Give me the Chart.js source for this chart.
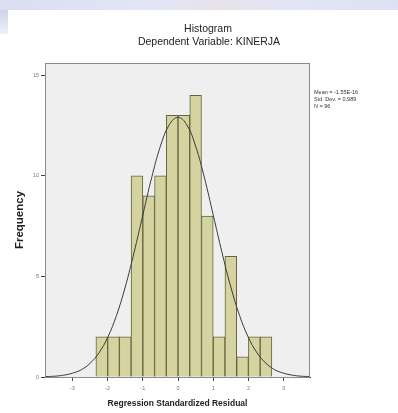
<!DOCTYPE html>
<html>
<head>
<meta charset="utf-8">
<script src="https://cdn.jsdelivr.net/npm/chart.js@4"></script>
<style>
  html, body { margin: 0; padding: 0; background: #ffffff; }
  #wrap { position: relative; width: 398px; height: 413px; overflow: hidden; }
  .band { position: absolute; left: 0; top: 0; width: 398px; height: 10px;
          background: linear-gradient(90deg, #d9def2 0%, #e4e6f6 40%, #e8e2ea 55%, #e4e6f6 70%, #dde1f3 100%); }
  .side { position: absolute; left: 0; top: 10px; width: 8px; height: 24px;
          background: linear-gradient(180deg, #ccd3ea, #eef0f8); }
  canvas { position: absolute; left: 0; top: 0; }
</style>
</head>
<body>
<div id="wrap">
  <div class="band"></div>
  <div class="side"></div>
  <canvas id="myChart" width="398" height="413"></canvas>
</div>
<script>
// histogram bins (width 1/3) and their counts
const binCenters = [-2.167, -1.833, -1.5, -1.167, -0.833, -0.5, -0.167, 0.167, 0.5, 0.833, 1.167, 1.5, 1.833, 2.167, 2.5];
const frequencies = [2, 2, 2, 10, 9, 10, 13, 13, 14, 8, 2, 6, 1, 2, 2];

// normal curve
const curveX = [-3.75, -3.5, -3.25, -3, -2.75, -2.5, -2.25, -2, -1.75, -1.5, -1.25, -1, -0.75, -0.5, -0.25, 0,
  0.25, 0.5, 0.75, 1, 1.25, 1.5, 1.75, 2, 2.25, 2.5, 2.75, 3, 3.25, 3.5, 3.75];
const curveY = [0.02, 0.04, 0.09, 0.19, 0.36, 0.68, 1.19, 1.96, 3.05, 4.47, 6.18, 8.05, 9.9, 11.47, 12.53, 12.9,
  12.53, 11.47, 9.9, 8.05, 6.18, 4.47, 3.05, 1.96, 1.19, 0.68, 0.36, 0.19, 0.09, 0.04, 0.02];

const titleText = "Histogram";
const subtitleText = "Dependent Variable: KINERJA";
const statLines = ["Mean = -1.55E-16", "Std. Dev. = 0.989", "N = 96"];
const yTicks = [0, 5, 10, 15];
const xTicks = [-3, -2, -1, 0, 1, 2, 3];

const font = "'Liberation Sans', Arial, sans-serif";

// grey plot background + frame, titles, stats box text on the right
const plotFrame = {
  id: "plotFrame",
  beforeDatasetsDraw(chart) {
    const { ctx, chartArea: a } = chart;
    ctx.save();
    ctx.fillStyle = "#efefef";
    ctx.fillRect(a.left, a.top, a.right - a.left, a.bottom - a.top);
    ctx.restore();
  },
  afterDraw(chart) {
    const { ctx, chartArea: a } = chart;
    ctx.save();
    ctx.strokeStyle = "#8a8a8a";
    ctx.lineWidth = 1;
    ctx.strokeRect(a.left + 0.5, a.top + 0.5, a.right - a.left - 1, a.bottom - a.top);

    // titles sit a bit right of the plot centre, like the original
    ctx.fillStyle = "#222222";
    ctx.textAlign = "center";
    ctx.textBaseline = "middle";
    ctx.font = "10.5px " + font;
    ctx.fillText(titleText, 208, 29);
    ctx.fillText(subtitleText, 209, 42);

    ctx.fillStyle = "#333333";
    ctx.textAlign = "left";
    ctx.font = "5.5px " + font;
    statLines.forEach((t, i) => ctx.fillText(t, a.right + 4, 92 + i * 7));
    ctx.restore();
  },
};

const ctx = document.getElementById("myChart");
new Chart(ctx, {
  data: {
    datasets: [
      {
        type: "line",
        data: curveX.map((x, i) => ({ x: x, y: curveY[i] })),
        borderColor: "#3a3a3a",
        borderWidth: 1,
        pointRadius: 0,
        tension: 0.4,
        order: 0,
      },
      {
        type: "bar",
        data: binCenters.map((x, i) => ({ x: x, y: frequencies[i] })),
        backgroundColor: "#d5d3a0",
        borderColor: "#66643f",
        borderWidth: 1,
        barPercentage: 1,
        categoryPercentage: 1,
        order: 1,
      },
    ],
  },
  options: {
    responsive: false,
    animation: false,
    layout: { padding: { left: 0, right: 88, top: 63, bottom: 0 } },
    scales: {
      x: {
        type: "linear",
        offset: false,
        min: -3.78,
        max: 3.75,
        afterBuildTicks: (s) => { s.ticks = xTicks.map((v) => ({ value: v })); },
        afterFit: (s) => { s.height = 36; },
        grid: { drawOnChartArea: false, offset: false, tickLength: 4, color: "#444" },
        border: { color: "#222" },
        ticks: { color: "#777", font: { size: 5.5, family: font }, padding: 4 },
        title: { display: true, text: "Regression Standardized Residual", color: "#222",
                 font: { size: 8.5, weight: "bold", family: font }, padding: { top: 6 } },
      },
      y: {
        min: 0,
        max: 15.6,
        afterBuildTicks: (s) => { s.ticks = yTicks.map((v) => ({ value: v })); },
        afterFit: (s) => { s.width = 45; },
        grid: { drawOnChartArea: false, tickLength: 4, color: "#444" },
        border: { color: "#222" },
        ticks: { color: "#777", font: { size: 5.5, family: font }, padding: 2 },
        title: { display: true, text: "Frequency", color: "#222",
                 font: { size: 11.5, weight: "bold", family: font }, padding: { top: 13, bottom: 4 } },
      },
    },
    plugins: {
      legend: { display: false },
      tooltip: { enabled: false },
      title: { display: false },
    },
  },
  plugins: [plotFrame],
});
</script>
</body>
</html>
